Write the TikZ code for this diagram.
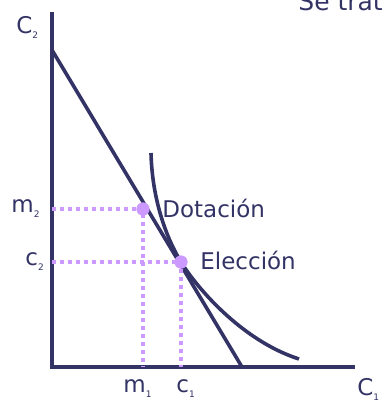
\documentclass[tikz,border=0pt]{standalone}
\usepackage{fontspec}
\setmainfont{DejaVu Sans}
\usetikzlibrary{positioning}
\definecolor{navy}{RGB}{51,51,102}
\definecolor{lav}{RGB}{204,153,255}
\newcommand{\lowidx}[1]{\raisebox{-0.4ex}{\fontsize{4.5}{4.5}\selectfont #1}}
\tikzset{
  axis/.style={draw=navy, line width=2.1pt},
  budget/.style={draw=navy, line width=1.8pt},
  guide/.style={draw=lav, line width=2pt, dash pattern=on 2pt off 2pt},
  pt/.style={circle, fill=lav, inner sep=0pt, minimum size=6.5pt},
  lbl/.style={text=navy, font=\fontsize{11.5}{13}\selectfont, inner sep=0pt},
}
\begin{document}
\begin{tikzpicture}[x=0.5pt, y=-0.5pt]
\useasboundingbox (0,0) rectangle (384,403);
\clip (0,0) rectangle (384,403);

% Axes
\coordinate (origin) at (52,367);
\coordinate (ytop) at (52,12);
\coordinate (xend) at (355,367);
\draw[axis] (ytop) -- (origin) -- (xend);
\node[lbl, anchor=west] (c2axis) at (16,27) {C\lowidx{2}};
\node[lbl, anchor=west] (c1axis) at (357,389) {C\lowidx{1}};

% Budget line
\coordinate (bt) at (52,50);
\coordinate (bb) at (242,367);
\draw[budget] (bt) -- (bb);

% Indifference curve
\draw[budget] (151,153) .. controls (152,195) and (164,234) .. (181,262)
  .. controls (195,285) and (240,340) .. (299,359);

% Endowment and choice
\coordinate (m2ax) at (52,209);
\coordinate (m1ax) at (143,367);
\coordinate (c2ax) at (52,262);
\coordinate (c1ax) at (181,367);
\node[pt] (dot) at (143,209) {};
\node[pt] (elec) at (181,262) {};
\draw[guide] (m2ax) -- (dot.center) -- (m1ax);
\draw[guide] (c2ax) -- (elec.center) -- (c1ax);
\node[pt] at (dot) {};
\node[pt] at (elec) {};

\node[lbl, anchor=west] (dotlbl) at (162,208) {Dotación};
\node[lbl, anchor=west] (eleclbl) at (200,260) {Elección};
\node[lbl, anchor=west] (m2) at (11,209) {m\lowidx{2}};
\node[lbl, anchor=west] (c2) at (25,262) {c\lowidx{2}};
\node[lbl, anchor=west] (m1) at (123,389) {m\lowidx{1}};
\node[lbl, anchor=west] (c1) at (176,389) {c\lowidx{1}};

% Title fragment
\node[text=navy, font=\fontsize{12.5}{14}\selectfont, anchor=base west, inner sep=0pt] (title) at (298,10) {Se trata};
\end{tikzpicture}
\end{document}
